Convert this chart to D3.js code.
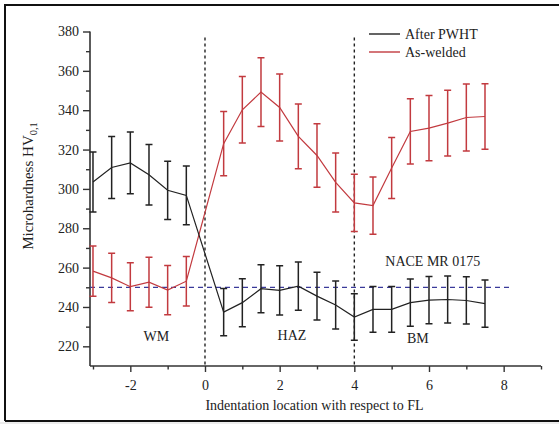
<!DOCTYPE html>
<html>
<head>
<meta charset="utf-8">
<script src="https://cdn.jsdelivr.net/npm/d3@7/dist/d3.min.js"></script>
<style>
  html, body { margin: 0; padding: 0; background: #fff; }
  svg { display: block; }
  text { font-family: "Liberation Serif", "Times New Roman", serif; fill: #222; }
</style>
</head>
<body>
<svg id="chart" width="559" height="424"></svg>
<script>
// ---- data ----
const positions = [-3, -2.5, -2, -1.5, -1, -0.5, 0.5, 1, 1.5, 2, 2.5, 3, 3.5, 4, 4.5, 5, 5.5, 6, 6.5, 7, 7.5];
const afterPWHT = [303.5, 310.9, 313.2, 307.2, 299.3, 296.7, 237.4, 242.2, 249.3, 248.4, 250.6, 245.5, 241.0, 234.9, 238.8, 238.8, 242.2, 243.5, 243.8, 243.3, 241.7];
const afterPWHTErr = [15.2, 15.8, 15.7, 15.4, 14.8, 14.9, 12.0, 12.2, 12.2, 12.5, 12.3, 12.1, 12.2, 11.8, 11.6, 11.6, 12.0, 12.0, 12.0, 12.0, 12.0];
const asWelded = [258.2, 254.8, 250.3, 252.6, 248.6, 253.1, 323.0, 340.2, 349.2, 341.4, 326.7, 317.0, 303.3, 292.9, 291.5, 310.6, 329.2, 330.9, 333.4, 336.3, 336.8];
const asWeldedErr = [12.8, 12.5, 12.2, 12.7, 12.5, 12.6, 16.3, 16.9, 17.5, 17.0, 16.5, 16.1, 15.0, 14.5, 14.5, 15.5, 16.6, 16.6, 16.7, 17.0, 16.7];
const seriesNames = ["After PWHT", "As-welded"];
const xTicks = [-2, 0, 2, 4, 6, 8];
const yTicks = [220, 240, 260, 280, 300, 320, 340, 360, 380];
const naceLimit = 250;
const zoneBoundaries = [0, 4];
const zoneLabels = [{t: "WM", x: -1.3, y: 225}, {t: "HAZ", x: 2.33, y: 226}, {t: "BM", x: 5.7, y: 224}];
const xTitle = "Indentation location with respect to FL";

// ---- layout ----
const svg = d3.select("#chart");
const W = 559, H = 424;
const colBlack = "#222", colRed = "#c23a3f", colBlue = "#3a3a9a";

// background panel + frame
svg.append("rect").attr("x", 0).attr("y", 0).attr("width", W).attr("height", H).attr("fill", "#fff");
svg.append("rect").attr("x", 0).attr("y", 422).attr("width", W).attr("height", 2).attr("fill", "#ececec");
svg.append("path").attr("d", "M5,421 L5,5 L562,5 M5,421 L562,421")
  .attr("fill", "none").attr("stroke", "#111").attr("stroke-width", 2);

const x = d3.scaleLinear().domain([-3.08, 9]).range([90, 541]);
const y = d3.scaleLinear().domain([210, 380]).range([366, 31.5]);

// axes
const axisG = svg.append("g");
// x axis
const xAxis = d3.axisBottom(x).tickValues(d3.range(-3, 10, 1)).tickSize(5)
  .tickFormat(d => xTicks.includes(d) ? d3.format("")(d).replace("−", "-") : "");
const gx = axisG.append("g").attr("transform", "translate(0,366)").call(xAxis);
gx.select(".domain").attr("d", "M90,0H541").attr("stroke", "#333").attr("stroke-width", 1.6);
gx.selectAll(".tick line").attr("stroke", "#333").attr("stroke-width", 1.4)
  .attr("y2", d => xTicks.includes(d) ? 6 : 3.5);
gx.selectAll(".tick text").attr("y", 14).attr("font-size", 14).attr("font-family", "Liberation Serif").attr("fill", "#222");

// y axis
const yAxis = d3.axisLeft(y).tickValues(d3.range(220, 381, 10)).tickSize(6)
  .tickFormat(d => yTicks.includes(d) ? d : "");
const gy = axisG.append("g").attr("transform", "translate(90,0)").call(yAxis);
gy.select(".domain").attr("d", "M0,31.5V366").attr("stroke", "#333").attr("stroke-width", 1.6);
gy.selectAll(".tick line").attr("stroke", "#333").attr("stroke-width", 1.4)
  .attr("x2", d => yTicks.includes(d) ? -7 : -4);
gy.selectAll(".tick text").attr("x", -11).attr("font-size", 14).attr("font-family", "Liberation Serif").attr("fill", "#222");

// axis titles
svg.append("text").attr("x", 314.5).attr("y", 410).attr("text-anchor", "middle")
  .attr("font-size", 14).text(xTitle);
const yt = svg.append("text").attr("transform", "translate(33,186) rotate(-90)")
  .attr("text-anchor", "middle").attr("font-size", 15);
yt.append("tspan").text("Microhardness HV");
yt.append("tspan").attr("font-size", 10.5).attr("dy", 4).text("0,1");

// zone boundaries
svg.selectAll(".zone").data(zoneBoundaries).join("line")
  .attr("x1", d => x(d)).attr("x2", d => x(d)).attr("y1", y(377)).attr("y2", 366)
  .attr("stroke", "#222").attr("stroke-width", 1.4).attr("stroke-dasharray", "3,3");

// NACE limit
svg.append("line").attr("x1", 90).attr("x2", x(8.23)).attr("y1", y(naceLimit)).attr("y2", y(naceLimit))
  .attr("stroke", colBlue).attr("stroke-width", 1.3).attr("stroke-dasharray", "5,4");
svg.append("text").attr("x", x(6.1)).attr("y", 265.5).attr("text-anchor", "middle")
  .attr("font-size", 14).text("NACE MR 0175");

// zone labels
zoneLabels.forEach(z => {
  svg.append("text").attr("x", x(z.x)).attr("y", y(z.y) + 5).attr("text-anchor", "middle")
    .attr("font-size", 14).text(z.t);
});

// series
function drawSeries(vals, errs, color) {
  const g = svg.append("g");
  const pts = positions.map((p, i) => ({x: p, v: vals[i], e: errs[i]}));
  g.append("path").datum(pts)
    .attr("d", d3.line().x(d => x(d.x)).y(d => y(d.v)))
    .attr("fill", "none").attr("stroke", color).attr("stroke-width", 1.2);
  const cap = 3.5;
  g.selectAll(".eb").data(pts).join("path")
    .attr("d", d => {
      const cx = x(d.x), t = y(d.v + d.e), b = y(d.v - d.e);
      return `M${cx},${t}V${b}M${cx - cap},${t}H${cx + cap}M${cx - cap},${b}H${cx + cap}`;
    })
    .attr("fill", "none").attr("stroke", color).attr("stroke-width", 1.5);
}
drawSeries(asWelded, asWeldedErr, colRed);
drawSeries(afterPWHT, afterPWHTErr, colBlack);

// legend
const legend = svg.append("g");
[colBlack, colRed].forEach((c, i) => {
  legend.append("line").attr("x1", 369).attr("x2", 400).attr("y1", 34 + i * 18).attr("y2", 34 + i * 18)
    .attr("stroke", c).attr("stroke-width", 1.4);
  legend.append("text").attr("x", 405).attr("y", 39 + i * 18).attr("font-size", 14).text(seriesNames[i]);
});
</script>
</body>
</html>
